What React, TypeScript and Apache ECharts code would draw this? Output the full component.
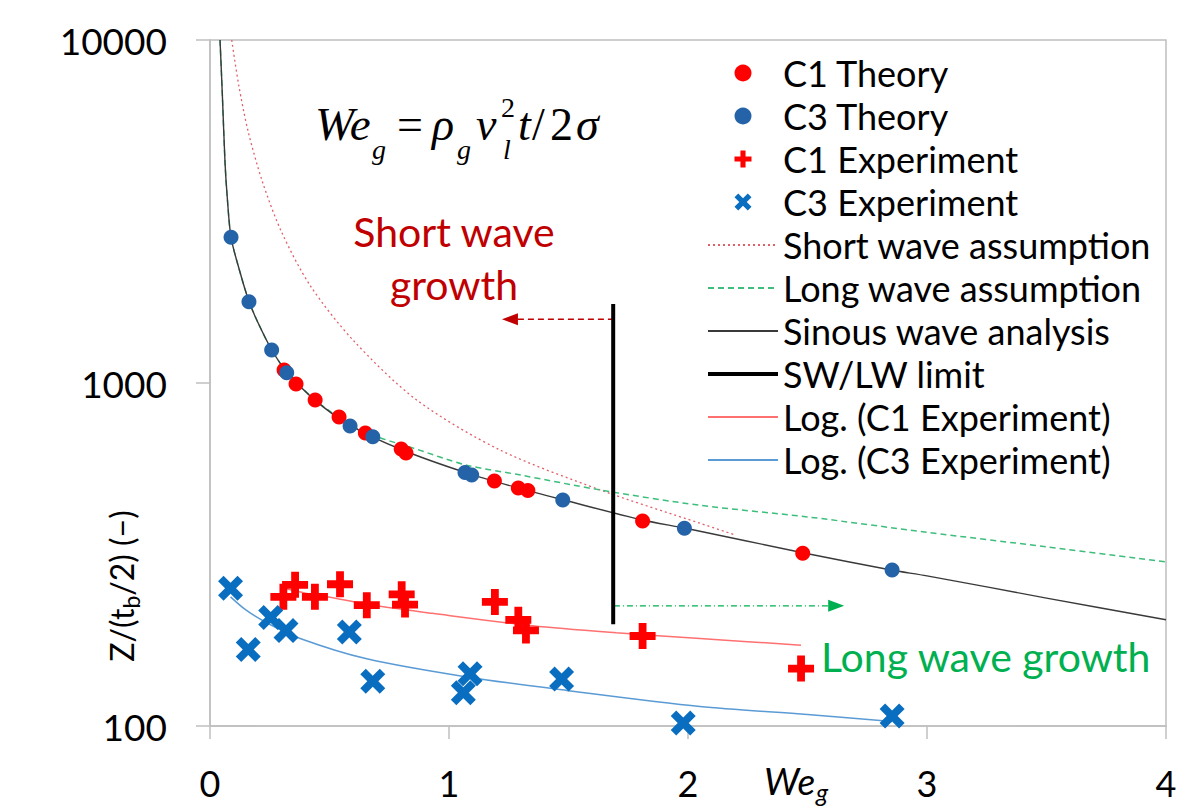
import React, { useEffect, useRef } from 'react';
import * as echarts from 'echarts';

// ---- Data ----
const c1TheoryX = [0.31, 0.36, 0.44, 0.54, 0.65, 0.80, 0.82, 1.19, 1.29, 1.33, 1.81, 2.48];
const c1TheoryY = [1091, 993, 892, 796, 715, 642, 625, 518, 494, 486, 396, 319];

const c3TheoryX = [0.088, 0.163, 0.258, 0.321, 0.586, 0.681, 1.067, 1.095, 1.476, 1.985, 2.854];
const c3TheoryY = [2661, 1726, 1248, 1072, 749, 697, 548, 539, 456, 377, 285];

const c1ExpX = [0.307, 0.356, 0.439, 0.544, 0.656, 0.802, 0.816, 1.192, 1.29, 1.322, 1.81, 2.473];
const c1ExpY = [238, 258, 238, 259, 225, 242, 226, 230, 204, 190, 183, 147];

const c3ExpX = [0.086, 0.16, 0.254, 0.318, 0.583, 0.681, 1.088, 1.06, 1.471, 1.98, 2.854];
const c3ExpY = [252, 167, 207, 190, 188, 135, 142, 125, 137, 102, 107];

const shortWaveX = [0.091, 0.12, 0.16, 0.22, 0.3, 0.42, 0.6, 0.865, 1.213, 1.632, 2.05, 2.2];
const shortWaveY = [10000, 7400, 5400, 3850, 2750, 1920, 1330, 892, 638, 488, 390, 360];

const longWaveX = [0.042, 0.052, 0.063, 0.072, 0.088, 0.123, 0.163, 0.202, 0.258, 0.32, 0.44, 0.59, 0.71, 0.85, 1.07, 1.3, 1.63, 2.05, 2.5, 3.0, 3.5, 4.0];
const longWaveY = [10000, 6835, 4370, 3490, 2660, 2135, 1730, 1493, 1250, 1080, 893, 752, 693, 646, 577, 539, 488, 440, 407, 367, 333, 301];

const sinousX = [0.042, 0.052, 0.063, 0.072, 0.088, 0.123, 0.163, 0.202, 0.258, 0.32, 0.44, 0.59, 0.8, 1.07, 1.3, 1.48, 1.8, 2.0, 2.48, 2.85, 3.0, 3.5, 4.0];
const sinousY = [10000, 6835, 4370, 3490, 2660, 2135, 1730, 1493, 1250, 1080, 890, 750, 640, 548, 492, 456, 400, 376, 320, 285, 274, 236, 204];

const limitX = [1.687, 1.687];
const limitY = [198, 1700];

const logC1X = [0.307, 0.4, 0.49, 0.7, 0.93, 1.35, 1.7, 2.05, 2.473];
const logC1Y = [252, 244, 238, 224, 213, 196, 187, 180, 172];

const logC3X = [0.086, 0.15, 0.237, 0.377, 0.656, 1.074, 1.492, 2.05, 2.5, 2.854];
const logC3Y = [238, 218, 200, 180, 157, 139, 127, 114, 108, 103];

const swArrowX = [1.69, 1.255];
const swArrowY = [1534, 1534];
const lwArrowX = [1.69, 2.62];
const lwArrowY = [224, 224];

const xTicks = [0, 1, 2, 3, 4];

const scatterNames = ['C1 Theory', 'C3 Theory', 'C1 Experiment', 'C3 Experiment'];
const lineNames = [
  'Short wave assumption',
  'Long wave assumption',
  'Sinous wave analysis',
  'SW/LW limit',
  'Log. (C1 Experiment)',
  'Log. (C3 Experiment)',
];

const pairs = (xs: number[], ys: number[]) => xs.map((x, i) => [x, ys[i]]);

export default function App() {
  const ref = useRef<HTMLDivElement>(null);

  useEffect(() => {
    if (!ref.current) return;
    const chart = echarts.init(ref.current, null, { renderer: 'svg' });
    const FONT = 'Lato';
    const SERIF = 'Liberation Serif';
    const plusPath = 'path://M3.5,0H6.5V3.5H10V6.5H6.5V10H3.5V6.5H0V3.5H3.5Z';
    const xPath = 'path://M0,2.2L2.2,0L5,2.8L7.8,0L10,2.2L7.2,5L10,7.8L7.8,10L5,7.2L2.2,10L0,7.8L2.8,5Z';
    const axisGray = '#BFBFBF';

    const serifText = (text: string, x: number, y: number, size: number, italic: boolean) => ({
      type: 'text',
      x,
      y,
      z: 50,
      style: {
        text,
        fill: '#000',
        fontFamily: SERIF,
        fontSize: size,
        fontStyle: italic ? 'italic' : 'normal',
        align: 'left',
        verticalAlign: 'middle',
      },
    });

    const plainText = (
      text: string,
      x: number,
      y: number,
      size: number,
      color: string,
      align: string,
      italic = false
    ) => ({
      type: 'text',
      x,
      y,
      z: 50,
      style: {
        text,
        fill: color,
        fontFamily: FONT,
        fontSize: size,
        fontStyle: italic ? 'italic' : 'normal',
        align,
        verticalAlign: 'middle',
      },
    });

    const swLast = swArrowX.length - 1;
    const lwLast = lwArrowX.length - 1;

    chart.setOption({
      animation: false,
      grid: {
        left: 210,
        right: 19,
        top: 40,
        bottom: 84,
        show: true,
        borderColor: axisGray,
        borderWidth: 1.5,
      },
      xAxis: {
        type: 'value',
        min: xTicks[0],
        max: xTicks[xTicks.length - 1],
        interval: 1,
        axisLine: { show: true, onZero: false, lineStyle: { color: axisGray, width: 1.5 } },
        axisTick: { show: true, length: 13, lineStyle: { color: axisGray, width: 1.5 } },
        splitLine: { show: false },
        axisLabel: { fontFamily: FONT, fontSize: 36, color: '#000', margin: 39 },
      },
      yAxis: {
        type: 'log',
        logBase: 10,
        min: 100,
        max: 10000,
        axisLine: { show: true, lineStyle: { color: axisGray, width: 1.5 } },
        axisTick: { show: true, length: 14, lineStyle: { color: axisGray, width: 1.5 } },
        minorTick: { show: false },
        splitLine: { show: false },
        axisLabel: {
          fontFamily: FONT,
          fontSize: 37,
          color: '#000',
          margin: 43,
          formatter: (v: number) => String(Math.round(v)),
        },
      },
      legend: {
        orient: 'vertical',
        left: 706,
        top: 55,
        padding: 0,
        itemWidth: 70,
        itemHeight: 17,
        itemGap: 7,
        selectedMode: false,
        textStyle: { fontFamily: FONT, fontSize: 36, color: '#000' },
        data: [
          ...scatterNames.map((name) => ({ name })),
          ...lineNames.map((name) =>
            name === 'SW/LW limit'
              ? { name, itemStyle: { opacity: 0 }, lineStyle: { width: 4, color: '#000' } }
              : { name, itemStyle: { opacity: 0 } }
          ),
        ],
      },
      graphic: [
        serifText('We', 315, 124, 47, true),
        serifText('g', 372, 149, 28, true),
        serifText('=', 397, 124, 46, false),
        serifText('\u03C1', 432, 124, 46, true),
        serifText('g', 457, 149, 28, true),
        serifText('v', 476, 124, 46, true),
        serifText('2', 501, 107, 28, false),
        serifText('l', 503, 149, 28, true),
        serifText('t', 518, 124, 46, true),
        serifText('/', 532, 124, 46, false),
        serifText('2', 550, 124, 46, false),
        serifText('\u03C3', 576, 124, 46, true),
        plainText('Short wave', 454, 231, 41, '#C00000', 'center'),
        plainText('growth', 454, 284, 41, '#C00000', 'center'),
        plainText('Long wave growth', 821, 656, 41, '#00B050', 'left'),
        plainText('We', 764, 780, 37, '#000', 'left', true),
        plainText('g', 816, 792, 25, '#000', 'left', true),
        {
          type: 'text',
          x: 121,
          y: 586,
          rotation: Math.PI / 2,
          z: 50,
          style: {
            text: '{n|Z/(t}{s|b}{n|/2) (\u2212)}',
            fill: '#000',
            fontFamily: FONT,
            fontSize: 32,
            align: 'center',
            verticalAlign: 'middle',
            rich: {
              n: { fontFamily: FONT, fontSize: 32, fill: '#000' },
              s: { fontFamily: FONT, fontSize: 23, fill: '#000', padding: [20, 0, 0, 0] },
            },
          },
        },
      ],
      series: [
        {
          name: 'C1 Theory',
          type: 'scatter',
          symbol: 'circle',
          symbolSize: 15,
          itemStyle: { color: '#FF0000', opacity: 1 },
          z: 6,
          data: pairs(c1TheoryX, c1TheoryY),
        },
        {
          name: 'C3 Theory',
          type: 'scatter',
          symbol: 'circle',
          symbolSize: 15,
          itemStyle: { color: '#2563A8', opacity: 1 },
          z: 6,
          data: pairs(c3TheoryX, c3TheoryY),
        },
        {
          name: 'C1 Experiment',
          type: 'scatter',
          symbol: plusPath,
          symbolSize: 26,
          symbolKeepAspect: true,
          itemStyle: { color: '#FF0000', opacity: 1 },
          z: 6,
          data: pairs(c1ExpX, c1ExpY),
        },
        {
          name: 'C3 Experiment',
          type: 'scatter',
          symbol: xPath,
          symbolSize: 25,
          symbolKeepAspect: true,
          itemStyle: { color: '#0A6EC0', opacity: 1 },
          z: 6,
          data: pairs(c3ExpX, c3ExpY),
        },
        {
          name: 'Short wave assumption',
          type: 'line',
          symbol: 'none',
          smooth: 0.3,
          lineStyle: { color: '#E0606A', width: 1.3, type: [2, 3] },
          itemStyle: { color: '#E0606A' },
          z: 3,
          data: pairs(shortWaveX, shortWaveY),
        },
        {
          name: 'Long wave assumption',
          type: 'line',
          symbol: 'none',
          smooth: 0.3,
          lineStyle: { color: '#3DBE7C', width: 1.5, type: [6, 4] },
          itemStyle: { color: '#3DBE7C' },
          z: 3,
          data: pairs(longWaveX, longWaveY),
        },
        {
          name: 'Sinous wave analysis',
          type: 'line',
          symbol: 'none',
          smooth: 0.3,
          lineStyle: { color: '#3A3A3A', width: 1.4 },
          itemStyle: { color: '#3A3A3A' },
          z: 4,
          data: pairs(sinousX, sinousY),
        },
        {
          name: 'SW/LW limit',
          type: 'line',
          symbol: 'none',
          lineStyle: { color: '#000000', width: 4 },
          itemStyle: { color: '#000000' },
          z: 4,
          data: pairs(limitX, limitY),
        },
        {
          name: 'Log. (C1 Experiment)',
          type: 'line',
          symbol: 'none',
          smooth: 0.3,
          lineStyle: { color: '#FF7070', width: 1.5 },
          itemStyle: { color: '#FF7070' },
          z: 3,
          data: pairs(logC1X, logC1Y),
        },
        {
          name: 'Log. (C3 Experiment)',
          type: 'line',
          symbol: 'none',
          smooth: 0.3,
          lineStyle: { color: '#5B9BD5', width: 1.5 },
          itemStyle: { color: '#5B9BD5' },
          z: 3,
          data: pairs(logC3X, logC3Y),
        },
        {
          name: 'swArrow',
          type: 'line',
          showSymbol: true,
          symbol: 'none',
          lineStyle: { color: '#C00000', width: 1.3, type: [6, 4] },
          itemStyle: { color: '#C00000' },
          z: 3,
          data: swArrowX.map((x, i) =>
            i === swLast
              ? { value: [x, swArrowY[i]], symbol: 'triangle', symbolSize: [12, 16], symbolRotate: 90 }
              : { value: [x, swArrowY[i]], symbol: 'none' }
          ),
        },
        {
          name: 'lwArrow',
          type: 'line',
          showSymbol: true,
          symbol: 'none',
          lineStyle: { color: '#00B050', width: 1.3, type: [6, 3, 1, 3] },
          itemStyle: { color: '#00B050' },
          z: 3,
          data: lwArrowX.map((x, i) =>
            i === lwLast
              ? { value: [x, lwArrowY[i]], symbol: 'triangle', symbolSize: [12, 16], symbolRotate: -90 }
              : { value: [x, lwArrowY[i]], symbol: 'none' }
          ),
        },
      ],
    });

    return () => chart.dispose();
  }, []);

  return (
    <div
      ref={ref}
      style={{ position: 'fixed', left: 0, top: 0, width: 1185, height: 810, background: '#fff' }}
    />
  );
}
